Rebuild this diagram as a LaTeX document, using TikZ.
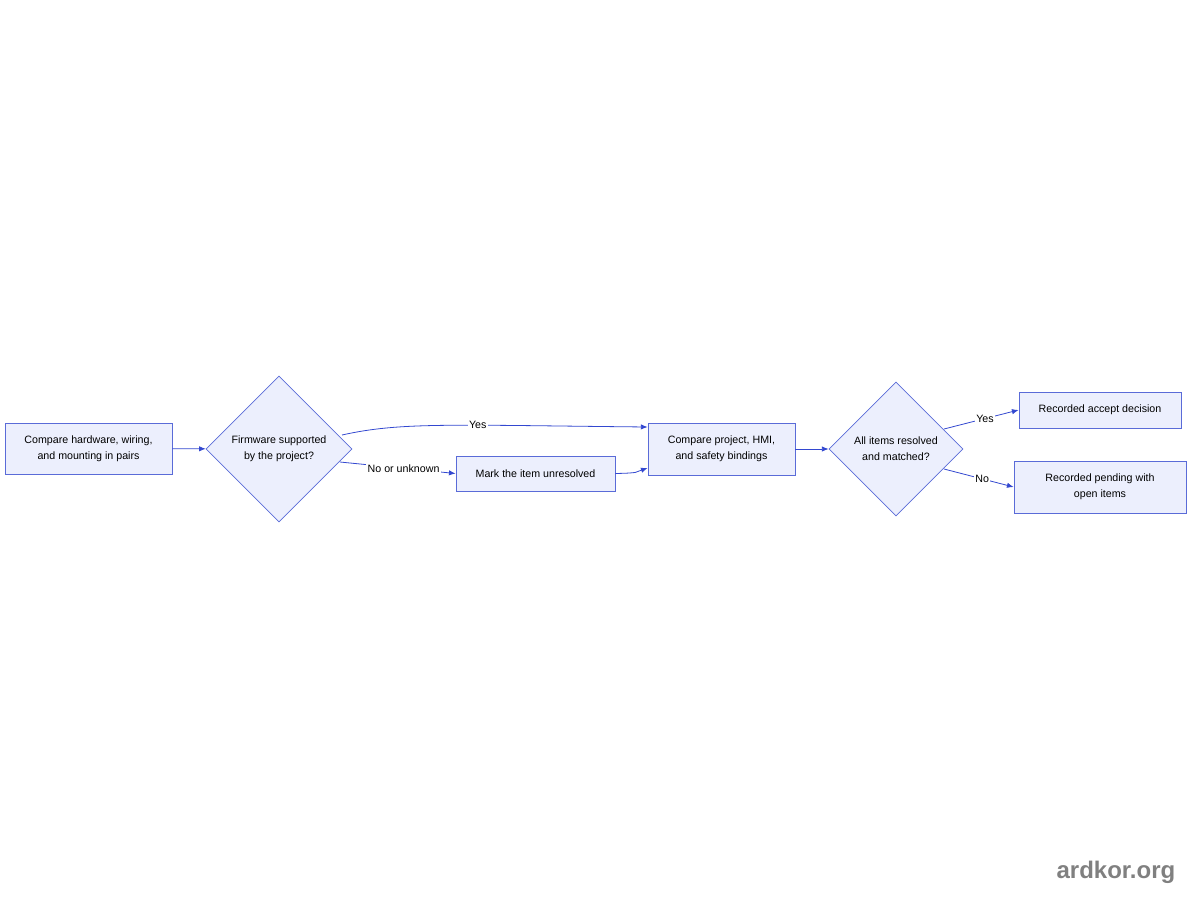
\documentclass[tikz,border=0pt]{standalone}
\usepackage{fontspec}
\setmainfont{Liberation Sans}
\usetikzlibrary{shapes.geometric,arrows.meta}
\definecolor{fillc}{HTML}{ECEFFD}
\definecolor{linec}{HTML}{5A6BD8}
\definecolor{arrc}{HTML}{3348D0}
\begin{document}
\begin{tikzpicture}[x=0.75pt,y=-0.75pt,
  box/.style={draw=linec,fill=fillc,line width=0.6pt,inner sep=0pt,align=center,font=\fontsize{8}{12}\selectfont},
  dia/.style={box,diamond,minimum width=#1*0.75pt,minimum height=#1*0.75pt},
  edge/.style={draw=arrc,line width=0.6pt,-{Latex[length=5pt,width=4pt]}},
  lab/.style={fill=white,inner sep=1pt,font=\fontsize{8}{10}\selectfont}]
\useasboundingbox (0,0) rectangle (1200,900);
\node[box,minimum width=125.25pt,minimum height=38.25pt] (a) at (88.5,448.5) {Compare hardware, wiring,\\and mounting in pairs};
\node[dia=146] (d1) at (279,449) {Firmware supported\\by the project?};
\node[box,minimum width=119.25pt,minimum height=26.25pt] (m) at (535.5,473.5) {Mark the item unresolved};
\node[box,minimum width=110.25pt,minimum height=39pt] (c) at (721.5,449) {Compare project, HMI,\\and safety bindings};
\node[dia=134] (d2) at (896,449) {All items resolved\\and matched?};
\node[box,minimum width=121.5pt,minimum height=27pt] (r1) at (1100,410) {Recorded accept decision};
\node[box,minimum width=129pt,minimum height=39pt] (r2) at (1100,487) {Recorded pending with\\open items};
\draw[edge] (a) -- (d1);
\draw[edge] (342,435) .. controls (400,422) and (450,425) .. node[lab,pos=0.62]{Yes} (c.north west |- 0,427);
\draw[edge] (340,462) -- node[lab,pos=0.55]{No or unknown} (m.west);
\draw[edge] (m.east) .. controls (640,473) and (636,472) .. (c.west |- 0,468);
\draw[edge] (c) -- (d2);
\draw[edge] (944,429) -- node[lab,pos=0.55]{Yes} (r1.west);
\draw[edge] (944,469) -- node[lab,pos=0.55]{No} (r2.west);
\node[font=\bfseries\fontsize{18}{20}\selectfont,text=gray,anchor=east] (w) at (1180,872) {ardkor.org};
\end{tikzpicture}
\end{document}
